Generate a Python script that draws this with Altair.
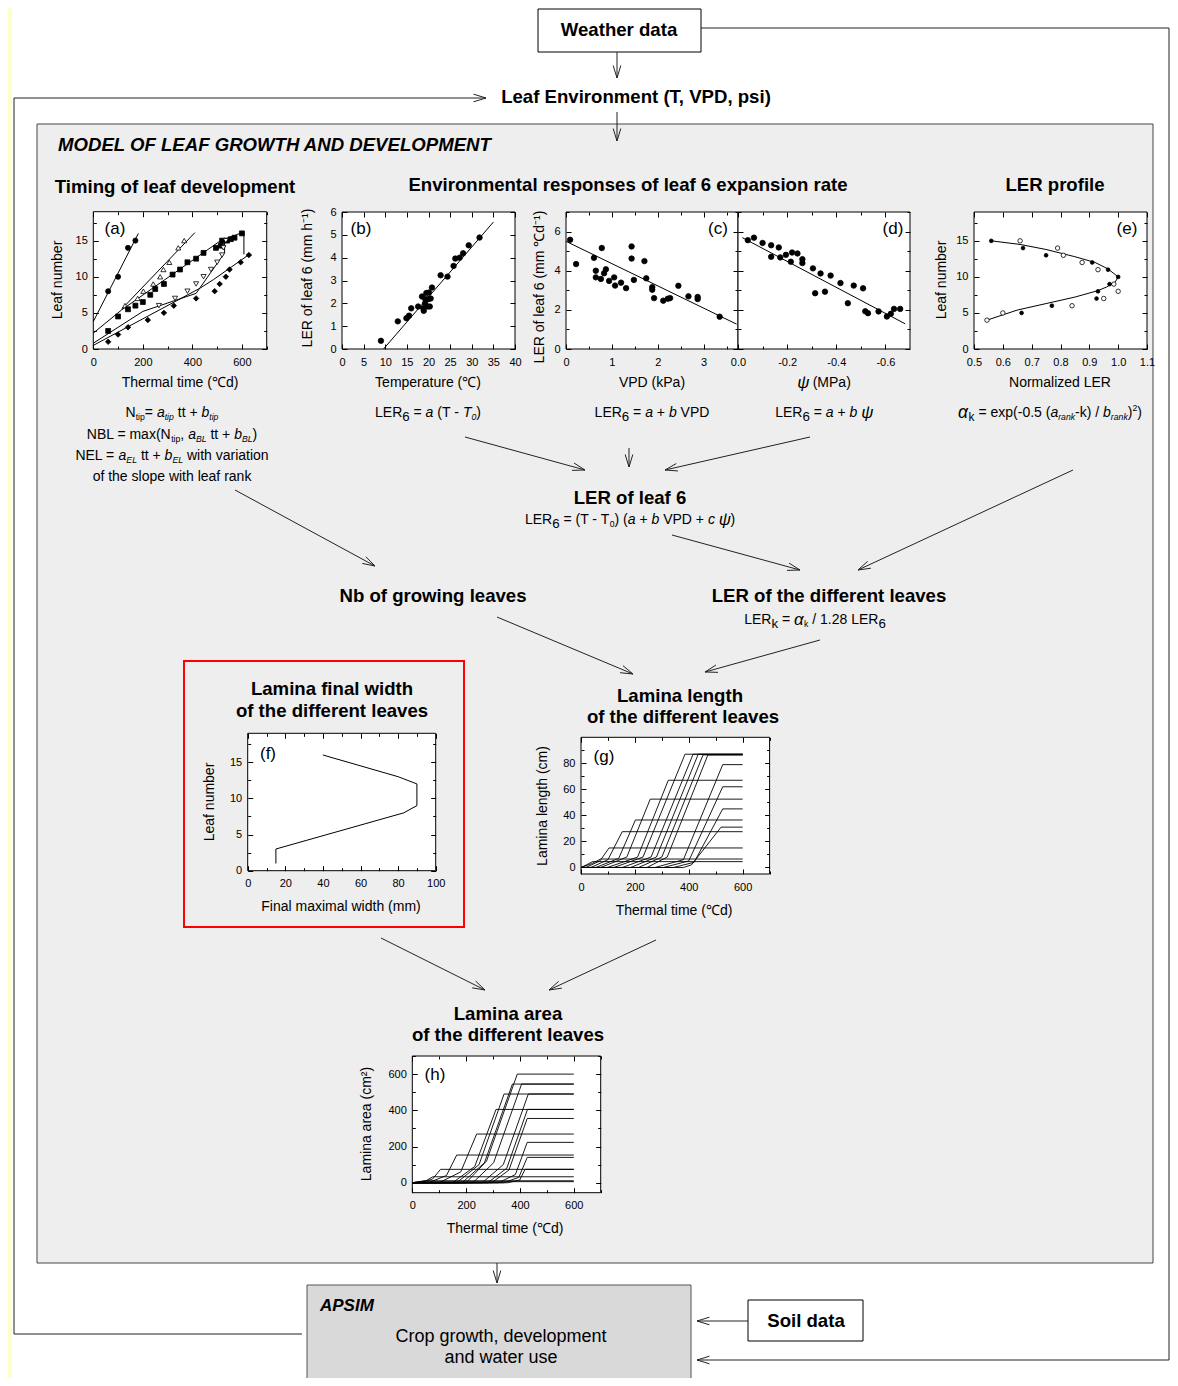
import math
import altair as alt
import pandas as pd

F = "Liberation Sans"
W, H = 1162, 1370
OX, OY = 8, 8

# ---------------- data ----------------
# (a) leaf stages vs thermal time
a_tip_tt = [60, 100, 140, 170]
a_tip_n = [8, 10, 14, 15]
a_up_tt = [128, 179, 202, 242, 270, 283, 307, 343, 367]
a_up_n = [6, 7, 8, 9, 10, 11, 12, 14, 15]
a_sq_tt = [60, 100, 140, 170, 200, 230, 250, 285, 320, 350, 380, 415, 445, 495, 515, 520, 540, 555, 570, 600]
a_sq_n = [2.5, 4.5, 5.5, 6, 6.5, 7.5, 8.3, 9, 10.3, 11, 12, 12.5, 13.3, 14, 14.3, 15, 15, 15.2, 15.4, 16]
a_dn_tt = [265, 330, 380, 415, 445, 475, 500, 520, 525, 535]
a_dn_n = [6, 7, 8, 9, 10, 11, 12, 13, 14, 15]
a_di_tt = [60, 100, 140, 220, 285, 325, 415, 490, 510, 535, 550, 595, 628]
a_di_n = [1, 2, 3, 4, 5, 6, 7, 8, 9, 10, 11, 12, 13]
a_fit_tip = ([0, 182], [3.8, 16.0])
a_fit_up = ([114, 410], [5.5, 16.1])
a_fit_sq = ([0, 114, 510, 600, 608, 608], [2.2, 5.4, 14.9, 16.1, 16.1, 13.1])
a_fit_dn = ([0, 200, 415, 530, 530], [0.8, 5.2, 7.7, 13.3, 15.4])
a_fit_di = ([0, 430, 485, 630], [0.5, 8.4, 9.6, 13.1])

# (b) LER vs temperature
b_temp = [9.0, 12.9, 14.9, 15.5, 16.0, 17.6, 18.5, 18.8, 18.9, 19.2, 19.3, 19.5, 19.7, 19.9,
          20.1, 20.3, 20.5, 20.8, 22.8, 24.4, 25.8, 26.2, 27.2, 28.0, 29.3, 31.8]
b_ler = [0.36, 1.21, 1.35, 1.46, 1.78, 1.86, 2.3, 1.78, 1.67, 2.0, 2.18, 2.45, 1.86, 2.18,
         2.47, 1.86, 2.21, 2.69, 3.23, 3.17, 3.64, 3.96, 4.0, 4.19, 4.54, 4.88]
b_fit = ([9.6, 35.0], [0.0, 5.56])

# (c) LER vs VPD
c_vpd = [0.09, 0.22, 0.61, 0.65, 0.65, 0.76, 0.78, 0.83, 0.87, 0.94, 1.05, 1.07, 1.2, 1.31, 1.43,
         1.43, 1.48, 1.71, 1.75, 1.88, 1.88, 1.92, 2.12, 2.22, 2.27, 2.45, 2.67, 2.87, 2.87, 3.35]
c_ler = [5.58, 4.34, 4.66, 4.0, 3.66, 3.58, 5.16, 3.87, 4.07, 3.48, 3.66, 3.24, 3.39, 3.11, 5.24,
         4.62, 3.53, 4.49, 3.61, 3.16, 3.03, 2.6, 2.47, 2.57, 2.6, 3.23, 2.69, 2.66, 2.55, 1.65]
c_fit = ([0.0, 3.72], [5.5, 1.27])

# (d) LER vs leaf water potential
d_psi = [-0.04, -0.065, -0.10, -0.135, -0.135, -0.166, -0.172, -0.195, -0.215, -0.22, -0.242,
         -0.262, -0.262, -0.305, -0.314, -0.336, -0.354, -0.377, -0.417, -0.447, -0.471, -0.509,
         -0.518, -0.529, -0.572, -0.606, -0.622, -0.635, -0.66]
d_ler = [5.56, 5.69, 5.42, 5.3, 4.71, 5.19, 4.68, 4.81, 4.46, 4.93, 4.88, 4.59, 4.39, 4.12, 2.85,
         3.86, 2.93, 3.75, 3.37, 2.34, 3.24, 3.1, 1.93, 1.83, 1.92, 1.66, 1.8, 2.05, 2.05]
d_fit = ([-0.0175, -0.68], [5.69, 1.29])

# (e) LER profile
e_fill_ler = [0.56, 0.67, 0.75, 0.91, 0.965, 1.0, 0.97, 0.93, 0.925, 0.77, 0.665]
e_fill_leaf = [15, 14, 13, 12, 11, 10, 9, 8, 7, 6, 5]
e_open_ler = [0.66, 0.79, 0.81, 0.875, 0.93, 0.985, 1.0, 0.95, 0.84, 0.6, 0.545]
e_open_leaf = [15, 14, 13, 12, 11, 9, 8, 7, 6, 5, 4]
e_fit = ([0.56, 0.66, 0.75, 0.85, 0.92, 0.965, 1.0, 0.99, 0.96, 0.93, 0.85, 0.75, 0.65, 0.545],
         [15.0, 14.5, 13.8, 12.8, 12.0, 11.1, 10.0, 9.3, 8.6, 8.1, 7.2, 6.3, 5.4, 4.0])

# (f) final lamina width per leaf
f_width = [40, 80, 90, 90, 83, 15, 15]
f_leaf = [16, 13, 12, 9, 8, 3, 1]

# (g) lamina length per leaf: start, knee time, knee value, end, final length
g_start = [0, 0, 18, 37, 55, 73, 98, 122, 153, 184, 214, 245, 275, 306, 343, 380]
g_knee_t = [20, 40, 70, 100, 140, 170, 210, 230, 260, 280, 300, 320, 380, 400, 420, 410]
g_knee_v = [2, 3, 5, 6, 7, 8, 8, 8, 8, 8, 8, 8, 6, 5, 4, 2]
g_end = [43, 73, 104, 153, 202, 257, 324, 386, 416, 435, 453, 471, 526, 526, 526, 520]
g_final = [4.5, 6.5, 15, 27.5, 36.5, 52.5, 67, 87, 87, 87, 86.5, 86.5, 79, 62, 45, 31]

# (h) lamina area per leaf: start, knee time, knee value, end, final area
h_start = [0, 0, 10, 30, 60, 100, 150, 165, 185, 200, 225, 260, 280, 295, 320, 340, 355]
h_knee_t = [10, 25, 50, 75, 127, 180, 232, 248, 268, 276, 302, 338, 351, 359, 383, 396, 399]
h_knee_v = [3, 5, 10, 20, 40, 60, 90, 100, 110, 120, 110, 100, 80, 70, 45, 30, 15]
h_end = [20, 41, 76, 105, 165, 239, 311, 341, 372, 390, 406, 431, 428, 427, 427, 427, 419]
h_final = [6, 11, 33, 74, 153, 269, 405, 490, 545, 600, 545, 490, 405, 355, 223, 140, 74]

# ---------------- layout (page pixel coordinates) ----------------
P = {
    'a': dict(L=93.3, R=266.7, T=211.7, B=349.0, xd=[0, 700], yd=[0, 19],
              xt=[0, 200, 400, 600], xm=[100, 300, 500, 700], yt=[0, 5, 10, 15], ym=[2.5, 7.5, 12.5, 17.5]),
    'b': dict(L=342, R=515, T=212, B=349, xd=[0, 40], yd=[0, 6],
              xt=[0, 5, 10, 15, 20, 25, 30, 35, 40], xm=[], yt=[0, 1, 2, 3, 4, 5, 6], ym=[]),
    'c': dict(L=566, R=738, T=212, B=349, xd=[0, 3.75], yd=[0, 7],
              xt=[0, 1, 2, 3], xm=[0.5, 1.5, 2.5, 3.5], yt=[0, 2, 4, 6], ym=[1, 3, 5, 7]),
    'd': dict(L=738, R=910, T=212, B=349, xd=[-0.7, 0], yd=[0, 7], rev=True, noylab=True,
              xt=[0, -0.2, -0.4, -0.6], xm=[-0.1, -0.3, -0.5], yt=[0, 2, 4, 6], ym=[1, 3, 5, 7],
              xe="replace(format(datum.value, '.1f'), '\u2212', '-')"),
    'e': dict(L=974, R=1147, T=212, B=349, xd=[0.5, 1.1], yd=[0, 19],
              xt=[0.5, 0.6, 0.7, 0.8, 0.9, 1.0, 1.1], xm=[], yt=[0, 5, 10, 15], ym=[2.5, 7.5, 12.5, 17.5],
              xf='.1f'),
    'f': dict(L=247.7, R=435.7, T=733.3, B=870.7, xd=[0, 100], yd=[0, 19],
              xt=[0, 20, 40, 60, 80, 100], xm=[10, 30, 50, 70, 90], yt=[0, 5, 10, 15], ym=[2.5, 7.5, 12.5, 17.5]),
    'g': dict(L=581, R=769.6, T=737.3, B=874, xd=[0, 700], yd=[-5, 100],
              xt=[0, 200, 400, 600], xm=[100, 300, 500, 700], yt=[0, 20, 40, 60, 80], ym=[10, 30, 50, 70, 90]),
    'h': dict(L=412.3, R=600.7, T=1056, B=1192.7, xd=[0, 700], yd=[-55, 700],
              xt=[0, 200, 400, 600], xm=[100, 300, 500, 700], yt=[0, 200, 400, 600], ym=[100, 300, 500, 700]),
}

CX = alt.Scale(domain=[0, 1178], range=[-OX, 1178 - OX], zero=False, nice=False)
CY = alt.Scale(domain=[0, 1386], range=[-OY, 1386 - OY], zero=False, nice=False)


def sx(p):
    r = [p['L'] - OX, p['R'] - OX]
    if p.get('rev'):
        r = r[::-1]
    return alt.Scale(domain=p['xd'], range=r, zero=False, nice=False)


def sy(p):
    return alt.Scale(domain=p['yd'], range=[p['B'] - OY, p['T'] - OY], zero=False, nice=False)


def tick_axis(orient, offset, vals, size):
    return alt.Axis(orient=orient, offset=offset, values=vals, ticks=True, tickSize=size,
                    tickColor='black', tickWidth=1, labels=False, domain=False, grid=False,
                    title=None, zindex=2)


def label_axis_x(p):
    kw = dict(orient='bottom', offset=(p['B'] - OY) - H, values=p['xt'], ticks=False, domain=False,
              grid=False, labelFont=F, labelFontSize=11, labelColor='black', labelPadding=7,
              labelOverlap=False, labelFlush=False, title=None, zindex=2)
    if 'xf' in p:
        kw['format'] = p['xf']
    if 'xe' in p:
        kw['labelExpr'] = p['xe']
    return alt.Axis(**kw)


def label_axis_y(p):
    return alt.Axis(orient='left', offset=-(p['L'] - OX), values=p['yt'], ticks=False, domain=False,
                    grid=False, labelFont=F, labelFontSize=11, labelColor='black', labelPadding=6,
                    labelOverlap=False, labelFlush=False, title=None, zindex=2)


def panel_base(p):
    fr = pd.DataFrame({'x': [p['xd'][0]], 'x2': [p['xd'][1]], 'y': [p['yd'][0]], 'y2': [p['yd'][1]]})
    out = []
    yax = None if p.get('noylab') else label_axis_y(p)
    out.append(alt.Chart(fr).mark_rect(fill='white', stroke='black', strokeWidth=1).encode(
        x=alt.X('x:Q', scale=sx(p), axis=label_axis_x(p)), x2='x2:Q',
        y=alt.Y('y:Q', scale=sy(p), axis=yax), y2='y2:Q'))
    for xv, yv, size in [(p['xt'], p['yt'], 5), (p['xm'], p['ym'], 3)]:
        if not xv and not yv:
            continue
        ax1 = tick_axis('top', -(p['B'] - OY), xv, size) if xv else None
        ay1 = tick_axis('right', (p['L'] - OX) - W, yv, size) if yv else None
        ax2 = tick_axis('bottom', (p['T'] - OY) - H, xv, size) if xv else None
        ay2 = tick_axis('left', -(p['R'] - OX), yv, size) if yv else None
        for ax, ay in [(ax1, ay1), (ax2, ay2)]:
            out.append(alt.Chart(fr).mark_point(opacity=0).encode(
                x=alt.X('x:Q', scale=sx(p), axis=ax), y=alt.Y('y:Q', scale=sy(p), axis=ay)))
    return out


def pts(p, xs, ys, shape='circle', fill='black', size=28, sw=0.8):
    df = pd.DataFrame({'x': xs, 'y': ys})
    return alt.Chart(df).mark_point(shape=shape, filled=True, fill=fill, stroke='black', strokeWidth=sw,
                                    size=size, opacity=1).encode(
        x=alt.X('x:Q', scale=sx(p), axis=None), y=alt.Y('y:Q', scale=sy(p), axis=None))


def lines(p, series, width=1):
    rows = []
    for k, (xs, ys) in enumerate(series):
        for i, (xv, yv) in enumerate(zip(xs, ys)):
            rows.append(dict(x=xv, y=yv, s=k, o=i))
    df = pd.DataFrame(rows)
    return alt.Chart(df).mark_line(color='black', strokeWidth=width).encode(
        x=alt.X('x:Q', scale=sx(p), axis=None), y=alt.Y('y:Q', scale=sy(p), axis=None),
        detail='s:N', order='o:Q')


def growth_series(starts, knee_t, knee_v, ends, finals):
    out = []
    for s, kt, kv, e, f in zip(starts, knee_t, knee_v, ends, finals):
        out.append(([0, s, kt, e, 600], [0, 0, kv, f, f]))
    return out


layers = []

# ---------- canvas rectangles ----------
rects = pd.DataFrame([
    dict(x=0, x2=12, y=0, y2=1386, fill='#FFFFC8', stroke='#FFFFC8', sw=0),
    dict(x=37, x2=1153, y=124, y2=1263, fill='#EEEEEE', stroke='#444444', sw=1),
    dict(x=538, x2=701, y=9, y2=52, fill='white', stroke='black', sw=1),
    dict(x=748, x2=863, y=1300, y2=1341, fill='white', stroke='black', sw=1),
    dict(x=307, x2=691, y=1285, y2=1400, fill='#D9D9D9', stroke='#555555', sw=1),
    dict(x=184, x2=464, y=661, y2=927, fill='transparent', stroke='#FF0000', sw=2),
])
layers.append(alt.Chart(rects).mark_rect().encode(
    x=alt.X('x:Q', scale=CX, axis=None), x2='x2:Q',
    y=alt.Y('y:Q', scale=CY, axis=None), y2='y2:Q',
    fill=alt.Fill('fill:N', scale=None), stroke=alt.Stroke('stroke:N', scale=None),
    strokeWidth=alt.StrokeWidth('sw:Q', scale=None)))

# ---------- connectors ----------
def arrow(x1, y1, x2, y2, head=True, L=13, ang=17):
    segs = [(x1, y1, x2, y2)]
    if head:
        a0 = math.atan2(y2 - y1, x2 - x1) + math.pi
        for sgn in (1, -1):
            a = a0 + sgn * math.radians(ang)
            segs.append((x2, y2, x2 + L * math.cos(a), y2 + L * math.sin(a)))
    return segs

segs = []
for a in [(617, 52, 617, 78), (14, 98, 486, 98), (617, 112, 617, 141),
          (465, 437, 585, 470), (629, 448, 629, 467), (810, 437, 665, 470),
          (235, 490, 375, 566), (672, 535, 800, 570), (1073, 470, 858, 570),
          (497, 617, 633, 674), (820, 640, 705, 672),
          (381, 938, 485, 990), (656, 940, 549, 990),
          (497, 1263, 497, 1283), (748, 1321, 697, 1321), (1169, 1360, 697, 1360)]:
    segs += arrow(*a)
for s in [(701, 28, 1169, 28), (1169, 28, 1169, 1360), (14, 98, 14, 1334), (14, 1334, 302, 1334)]:
    segs += arrow(*s, head=False)
segdf = pd.DataFrame(segs, columns=['x', 'y', 'x2', 'y2'])
layers.append(alt.Chart(segdf).mark_rule(color='#222222', strokeWidth=1).encode(
    x=alt.X('x:Q', scale=CX, axis=None), x2='x2:Q',
    y=alt.Y('y:Q', scale=CY, axis=None), y2='y2:Q'))

# ---------- panels ----------
pa = P['a']
layers += panel_base(pa)
layers.append(lines(pa, [a_fit_tip, a_fit_up, a_fit_sq, a_fit_dn, a_fit_di]))
layers.append(pts(pa, a_tip_tt, a_tip_n, 'circle', 'black', 26))
layers.append(pts(pa, a_up_tt, a_up_n, 'triangle-up', 'white', 26))
layers.append(pts(pa, a_sq_tt, a_sq_n, 'square', 'black', 24))
layers.append(pts(pa, a_dn_tt, a_dn_n, 'triangle-down', 'white', 26))
layers.append(pts(pa, a_di_tt, a_di_n, 'diamond', 'black', 30))

pb = P['b']
layers += panel_base(pb)
layers.append(lines(pb, [b_fit]))
layers.append(pts(pb, b_temp, b_ler, 'circle', 'black', 30))

pc = P['c']
layers += panel_base(pc)
layers.append(lines(pc, [c_fit]))
layers.append(pts(pc, c_vpd, c_ler, 'circle', 'black', 30))

pd_ = P['d']
layers += panel_base(pd_)
layers.append(lines(pd_, [d_fit]))
layers.append(pts(pd_, d_psi, d_ler, 'circle', 'black', 30))

pe = P['e']
layers += panel_base(pe)
layers.append(lines(pe, [e_fit]))
layers.append(pts(pe, e_open_ler, e_open_leaf, 'circle', 'white', 20))
layers.append(pts(pe, e_fill_ler, e_fill_leaf, 'circle', 'black', 14))

pf = P['f']
layers += panel_base(pf)
layers.append(lines(pf, [(f_width, f_leaf)]))

pg = P['g']
layers += panel_base(pg)
layers.append(lines(pg, growth_series(g_start, g_knee_t, g_knee_v, g_end, g_final), 0.9))

ph = P['h']
layers += panel_base(ph)
layers.append(lines(ph, growth_series(h_start, h_knee_t, h_knee_v, h_end, h_final), 0.9))

# ---------- texts ----------
TX = []

def txt(x, y, t, size=14, weight='normal', style='normal', align='center', angle=0):
    TX.append(dict(x=x, y=y, text=t, size=size, weight=weight, style=style, align=align, angle=angle))

B = 'bold'
HS = 18.6
txt(619, 30, 'Weather data', HS, B)
txt(636, 97, 'Leaf Environment (T, VPD, psi)', HS, B)
txt(58, 145, 'MODEL OF LEAF GROWTH AND DEVELOPMENT', HS, B, 'italic', 'left')
txt(175, 187, 'Timing of leaf development', HS, B)
txt(628, 185, 'Environmental responses of leaf 6 expansion rate', HS, B)
txt(1055, 185, 'LER profile', HS, B)
txt(630, 498, 'LER of leaf 6', HS, B)
txt(433, 596, 'Nb of growing leaves', HS, B)
txt(829, 596, 'LER of the different leaves', HS, B)
txt(332, 689, 'Lamina final width', HS, B)
txt(332, 711, 'of the different leaves', HS, B)
txt(680, 696, 'Lamina length', HS, B)
txt(683, 717, 'of the different leaves', HS, B)
txt(508, 1014, 'Lamina area', HS, B)
txt(508, 1035, 'of the different leaves', HS, B)
txt(806, 1321, 'Soil data', HS, B)
txt(320, 1306, 'APSIM', 17, B, 'italic', 'left')
txt(501, 1337, 'Crop growth, development', 18)
txt(501, 1358, 'and water use', 18)

# axis titles
txt(58, 280, 'Leaf number', 14, angle=270)
txt(180, 383, 'Thermal time (\u2103d)', 14)
txt(308, 278, 'LER of leaf 6 (mm h\u207b\u00b9)', 14, angle=270)
txt(428, 383, 'Temperature (\u2103)', 14)
txt(540, 287, 'LER of leaf 6 (mm \u2103d\u207b\u00b9)', 14, angle=270)
txt(652, 383, 'VPD (kPa)', 14)
txt(942, 280, 'Leaf number', 14, angle=270)
txt(1060, 383, 'Normalized LER', 14)
txt(210, 802, 'Leaf number', 14, angle=270)
txt(341, 907, 'Final maximal width (mm)', 14)
txt(543, 806, 'Lamina length (cm)', 14, angle=270)
txt(674, 911, 'Thermal time (\u2103d)', 14)
txt(367, 1124, 'Lamina area (cm\u00b2)', 14, angle=270)
txt(505, 1229, 'Thermal time (\u2103d)', 14)

for lab, x, y in [('(a)', 115, 229), ('(b)', 361, 229), ('(c)', 718, 229), ('(d)', 893, 229),
                  ('(e)', 1127, 229), ('(f)', 268, 754), ('(g)', 604, 757), ('(h)', 435, 1075)]:
    txt(x, y, lab, 17)

# formulas: segments (text, italic, size factor, dy)
AW = {' ': 278, '!': 278, '(': 333, ')': 333, '+': 584, ',': 278, '-': 333, '.': 278, '/': 278,
      '=': 584, 'A': 667, 'B': 667, 'C': 722, 'D': 722, 'E': 667, 'F': 611, 'G': 778, 'H': 722,
      'I': 278, 'K': 667, 'L': 556, 'M': 833, 'N': 722, 'O': 778, 'P': 667, 'R': 722, 'S': 667,
      'T': 611, 'V': 667, 'W': 944, 'a': 556, 'b': 556, 'c': 500, 'd': 556, 'e': 556, 'f': 278,
      'g': 556, 'h': 556, 'i': 222, 'j': 222, 'k': 500, 'l': 222, 'm': 833, 'n': 556, 'o': 556,
      'p': 556, 'q': 556, 'r': 333, 's': 500, 't': 278, 'u': 556, 'v': 500, 'w': 722, 'x': 500,
      'y': 500, 'z': 500, '\u03c8': 690, '\u03b1': 600}


def tw(t, size):
    return sum(AW.get(ch, 556) for ch in t) / 1000.0 * size


FR = []

def formula(cxp, cyp, segs_, base=14):
    ws = [tw(t, base * f) for (t, it, f, dy) in segs_]
    x = cxp - sum(ws) / 2.0
    for (t, it, f, dy), w in zip(segs_, ws):
        lead = len(t) - len(t.lstrip(' '))
        s = t.strip(' ')
        if s:
            FR.append(dict(x=x + tw(t[:lead], base * f), y=cyp + dy, text=s, size=base * f,
                           style='italic' if it else 'normal'))
        x += w


def R(t): return (t, False, 1.0, 0)
def I(t): return (t, True, 1.0, 0)
def SUB(t, it=False): return (t, it, 0.62, 4)
def SUB6(t): return (t, False, 0.95, 4)

formula(172, 413, [R('N'), SUB('tip'), R('= '), I('a'), SUB('tip', True), R(' tt + '), I('b'), SUB('tip', True)])
formula(172, 435, [R('NBL = max(N'), SUB('tip'), R(', '), I('a'), SUB('BL', True), R(' tt + '), I('b'),
                   SUB('BL', True), R(')')])
formula(172, 456, [R('NEL = '), I('a'), SUB('EL', True), R(' tt + '), I('b'), SUB('EL', True),
                   R(' with variation')])
formula(172, 477, [R('of the slope with leaf rank')])
formula(428, 413, [R('LER'), SUB6('6'), R(' = '), I('a'), R(' (T - '), I('T'), SUB('0', True), R(')')])
formula(652, 413, [R('LER'), SUB6('6'), R(' = '), I('a'), R(' + '), I('b'), R(' VPD')])
formula(824, 413, [R('LER'), SUB6('6'), R(' = '), I('a'), R(' + '), I('b'), R(' '), ('\u03c8', True, 1.2, 0)])
formula(1050, 413, [('\u03b1', True, 1.25, 0), ('k', False, 0.85, 4), R(' = exp(-0.5 ('), I('a'),
                    SUB('rank', True), R('-k) / '), I('b'), SUB('rank', True), R(')'), ('2', False, 0.62, -5),
                    R(')')])
formula(824, 383, [('\u03c8', True, 1.2, 0), R(' (MPa)')])
formula(630, 520, [R('LER'), SUB6('6'), R(' = (T - T'), SUB('0'), R(') ('), I('a'), R(' + '), I('b'),
                   R(' VPD + '), I('c'), R(' '), ('\u03c8', True, 1.2, 0), R(')')])
formula(815, 620, [R('LER'), SUB6('k'), R(' = '), ('\u03b1', True, 1.2, 0), SUB('k'), R(' / 1.28 LER'), SUB6('6')])

txdf = pd.DataFrame(TX)
for (wt, st, al), g in txdf.groupby(['weight', 'style', 'align']):
    layers.append(alt.Chart(g.reset_index(drop=True)).mark_text(
        font=F, fontWeight=wt, fontStyle=st, align=al, baseline='middle', color='black').encode(
        x=alt.X('x:Q', scale=CX, axis=None), y=alt.Y('y:Q', scale=CY, axis=None),
        text='text:N', size=alt.Size('size:Q', scale=None), angle=alt.Angle('angle:Q', scale=None)))

frdf = pd.DataFrame(FR)
for st, g in frdf.groupby('style'):
    layers.append(alt.Chart(g.reset_index(drop=True)).mark_text(
        font=F, fontStyle=st, align='left', baseline='middle', color='black').encode(
        x=alt.X('x:Q', scale=CX, axis=None), y=alt.Y('y:Q', scale=CY, axis=None),
        text='text:N', size=alt.Size('size:Q', scale=None)))

chart = alt.layer(*layers).resolve_scale(x='independent', y='independent').properties(
    width=W, height=H, autosize=alt.AutoSizeParams(type='none'), padding=0, background='white'
).configure_view(stroke=None)

chart.save("out.html", embed_options={"renderer": "svg", "actions": False})
